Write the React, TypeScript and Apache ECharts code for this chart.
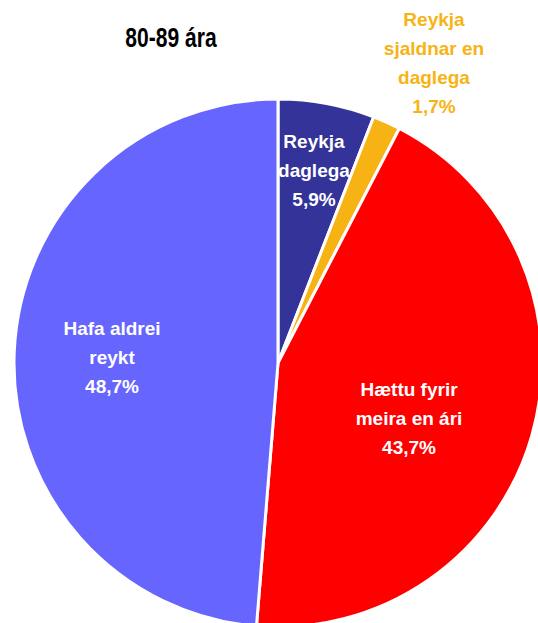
import React, { useEffect, useRef } from "react";
import * as echarts from "echarts";

const titleText = "80-89 ára";
const categories = [
  "Reykja\ndaglega",
  "Reykja\nsjaldnar en\ndaglega",
  "Hættu fyrir\nmeira en ári",
  "Hafa aldrei\nreykt",
];
const values = [5.9, 1.7, 43.7, 48.7];
const colors = ["#333399", "#F7B314", "#FF0000", "#6666FF"];
const labelColors = ["#FFFFFF", "#F7B314", "#FFFFFF", "#FFFFFF"];
// label block centres (layout)
const labelCenters: [number, number][] = [
  [314, 170],
  [434, 63],
  [409, 418],
  [112, 357],
];

const fmt = (v: number) => v.toFixed(1).replace(".", ",") + "%";

export default function App() {
  const ref = useRef<HTMLDivElement>(null);
  useEffect(() => {
    if (!ref.current) return;
    const chart = echarts.init(ref.current, null, { renderer: "svg" });
    chart.setOption({
      animation: false,
      backgroundColor: "#FFFFFF",
      graphic: [
        {
          type: "text",
          x: 171,
          y: 38,
          scaleX: 0.78,
          style: {
            text: titleText,
            font: "bold 27px 'Liberation Sans', Arial, sans-serif",
            fill: "#000000",
            align: "center",
            verticalAlign: "middle",
          },
        },
      ],
      series: [
        {
          type: "pie",
          center: [278, 363],
          radius: 264,
          startAngle: 90,
          clockwise: true,
          avoidLabelOverlap: false,
          itemStyle: { borderColor: "#FFFFFF", borderWidth: 3 },
          label: {
            show: true,
            position: "inside",
            fontFamily: "'Liberation Sans', Arial, sans-serif",
            fontWeight: "bold",
            fontSize: 19,
            lineHeight: 29,
            align: "center",
            formatter: (p: any) => `${p.name}\n${fmt(p.value)}`,
          },
          labelLine: { show: false },
          labelLayout: (p: any) => {
            const c = labelCenters[p.dataIndex];
            return { x: c[0], y: c[1], align: "center", verticalAlign: "middle" };
          },
          emphasis: { disabled: true },
          data: categories.map((name, i) => ({
            name,
            value: values[i],
            itemStyle: { color: colors[i] },
            label: { color: labelColors[i] },
          })),
        },
      ],
    });
    return () => chart.dispose();
  }, []);
  return (
    <div
      ref={ref}
      style={{ position: "fixed", left: 0, top: 0, width: 538, height: 623 }}
    />
  );
}
